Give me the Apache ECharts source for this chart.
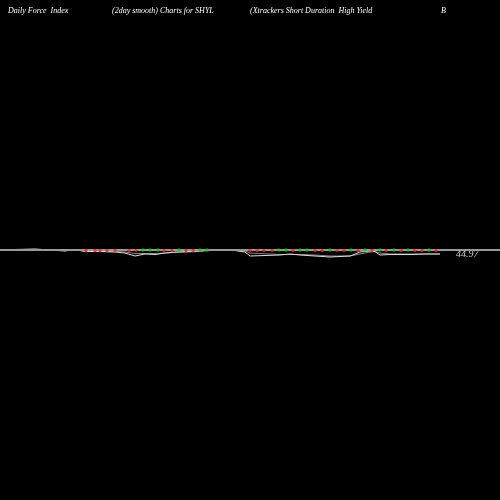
<!DOCTYPE html>
<html>
<head>
<meta charset="utf-8">
<script src="https://cdn.jsdelivr.net/npm/echarts@6/dist/echarts.min.js"></script>
</head>
<body style="margin:0;background:#000">
<div id="chart" style="width:500px;height:500px;"></div>
<script type="text/javascript">
    // Data (x = trading day position, y = price)
    var days = [15, 35, 50, 65, 75, 85, 100, 115, 125, 135, 145, 155, 165, 175, 200, 210, 235, 245, 250, 280, 290, 300, 315, 330, 340, 350, 360, 370, 375, 380, 390, 410, 425, 440];
    var closes = [45.01, 45.02, 45.00, 44.98, 45.01, 44.97, 44.97, 44.96, 44.94, 44.88, 44.92, 44.91, 44.94, 44.96, 44.98, 45.01, 44.99, 44.96, 44.88, 44.90, 44.92, 44.90, 44.88, 44.86, 44.87, 44.88, 44.96, 44.98, 44.97, 44.90, 44.91, 44.91, 44.92, 44.92];
    var smooth = [45.01, 45.01, 45.00, 44.99, 45.00, 44.98, 44.97, 44.97, 44.96, 44.93, 44.93, 44.93, 44.94, 44.95, 44.97, 44.99, 44.99, 44.98, 44.94, 44.91, 44.91, 44.91, 44.90, 44.88, 44.88, 44.88, 44.92, 44.96, 44.97, 44.94, 44.92, 44.92, 44.92, 44.92];
    var upDays = [143, 150, 158, 179, 200, 207, 279, 286, 300, 307, 330, 351, 365, 380, 394, 408, 429];
    var downDays = [86, 95, 100, 107, 115, 129, 136, 164, 172, 186, 193, 250, 257, 264, 272, 293, 315, 322, 337, 344, 358, 372, 386, 401, 415, 422, 436];
    var lastPrice = 44.97;

    var chart = echarts.init(document.getElementById('chart'));
    var txt = { color: '#fff', fontFamily: 'Liberation Serif', fontStyle: 'italic', fontWeight: 'normal', fontSize: 8 };
    chart.setOption({
        backgroundColor: '#000',
        animation: false,
        title: [
            { text: 'Daily Force  Index', left: 3, top: 2, textStyle: txt },
            { text: '(2day smooth) Charts for SHYL', left: 107, top: 2, textStyle: txt },
            { text: '(Xtrackers Short Duration  High Yield', left: 245, top: 2, textStyle: txt },
            { text: 'B', left: 436, top: 2, textStyle: txt }
        ],
        grid: { left: 0, right: 0, top: 0, bottom: 0 },
        xAxis: { type: 'value', min: 0, max: 500, show: false },
        yAxis: { type: 'value', min: 40, max: 50, show: false },
        series: [
            {
                type: 'line', data: days.map((d, i) => [d, smooth[i]]), symbol: 'none',
                lineStyle: { color: '#888', width: 1 },
                markLine: {
                    silent: true, symbol: 'none',
                    lineStyle: { color: '#999', type: 'solid', width: 2 },
                    label: { show: false },
                    data: [{ yAxis: 45.0 }]
                }
            },
            {
                type: 'line', data: days.map((d, i) => [d, closes[i]]), symbol: 'none',
                lineStyle: { color: '#ddd', width: 1 },
                endLabel: { show: true, formatter: String(lastPrice), color: '#ccc', fontFamily: 'Liberation Serif', fontStyle: 'italic', fontSize: 10, offset: [8, 0] }
            },
            {
                type: 'scatter', data: upDays.map(d => [d, 45.0]), symbolSize: 3.5, z: 5,
                itemStyle: { color: '#0c0' }
            },
            {
                type: 'scatter', data: downDays.map(d => [d, 44.99]), symbolSize: 3.5, z: 5,
                itemStyle: { color: '#e22' }
            }
        ]
    });
</script>
</body>
</html>
